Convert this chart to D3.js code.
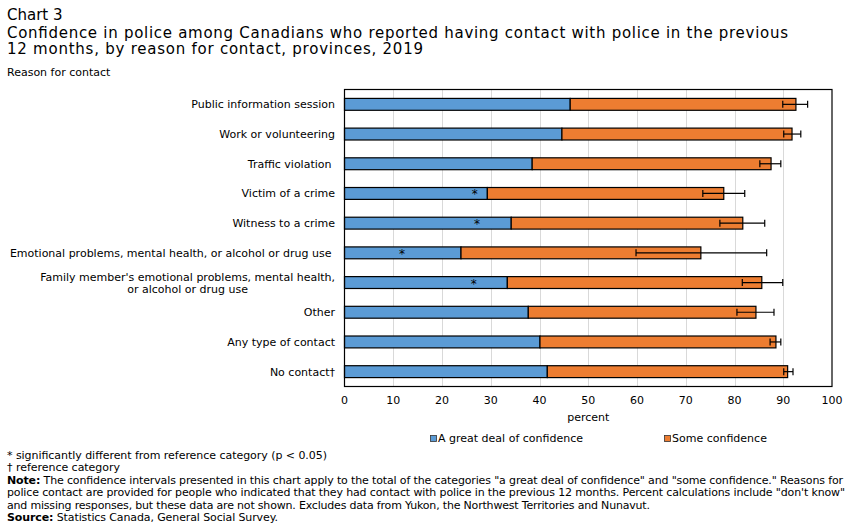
<!DOCTYPE html>
<html>
  <head>
    <meta http-equiv="Content-Type" content="text/html;charset=utf-8"/>
    <script type="text/javascript" src="https://cdn.jsdelivr.net/npm/d3@7"></script>
    <style type="text/css">
      body { margin: 0; background: #fff; }
      text { font-family: "DejaVu Sans", Verdana, sans-serif; fill: #000; }
      .note { font-size: 11px; }
      .grid line { stroke: #d9d9d9; }
    </style>
  </head>
  <body>
    <svg id="con" width="851" height="530"></svg>
    <script type="text/javascript">

    var categories = [
      "Public information session",
      "Work or volunteering",
      "Traffic violation ",
      "Victim of a crime",
      "Witness to a crime",
      "Emotional problems, mental health, or alcohol or drug use ",
      "Family member's emotional problems, mental health,|or alcohol or drug use",
      "Other",
      "Any type of contact",
      "No contact\u2020"
    ];
    var greatDeal = [46.3, 44.6, 38.5, 29.3, 34.2, 23.9, 33.4, 37.7, 40.1, 41.6];
    var someConf  = [46.3, 47.2, 49.0, 48.5, 47.5, 49.2, 52.2, 46.7, 48.4, 49.3];
    var ciLow     = [89.9, 90.1, 85.2, 73.5, 77.0, 59.8, 81.6, 80.5, 87.3, 90.1];
    var ciHigh    = [95.0, 93.6, 89.5, 82.1, 86.2, 86.6, 89.9, 88.1, 89.5, 92.0];
    // where the "*" sits (x value), null = not significant
    var starAt    = [null, null, null, 26.7, 27.2, 11.8, 26.5, null, null, null];
    var xTicks    = [0, 10, 20, 30, 40, 50, 60, 70, 80, 90, 100];
    var series    = ["A great deal of confidence", "Some confidence"];
    var colors    = ["#5b9bd5", "#ed7d31"];

    var svg = d3.select("#con");
    // note: "top" is reserved on window, so use pl/pr/pt/pb
    var pl = 344.5, pr = 832, pt = 89.5, pb = 386.5;

    var x = d3.scaleLinear().domain([0, 100]).range([pl, pr]);
    var y = d3.scaleBand().domain(categories).range([pt, pb]).paddingInner(0.6).paddingOuter(0.3);

    // titles
    svg.append("text").attr("x", 7).attr("y", 20).style("font-size", "15px").text("Chart 3");
    svg.append("text").attr("x", 7).attr("y", 38).style("font-size", "15px")
        .attr("textLength", 781).attr("lengthAdjust", "spacing")
        .text("Confidence in police among Canadians who reported having contact with police in the previous");
    svg.append("text").attr("x", 7).attr("y", 54).style("font-size", "15px")
        .attr("textLength", 416).attr("lengthAdjust", "spacing")
        .text("12 months, by reason for contact, provinces, 2019");
    svg.append("text").attr("x", 7).attr("y", 76).style("font-size", "11px").text("Reason for contact");

    // gridlines
    svg.append("g").attr("class", "grid").selectAll("line").data(xTicks.slice(1, -1)).enter()
      .append("line")
        .attr("x1", function(d) { return Math.round(x(d)) + 0.5; })
        .attr("x2", function(d) { return Math.round(x(d)) + 0.5; })
        .attr("y1", pt).attr("y2", pb);

    // stacked bars
    var stack = categories.map(function(c, i) {
      return [[0, greatDeal[i]], [greatDeal[i], greatDeal[i] + someConf[i]]];
    });
    var rows = svg.append("g").selectAll("g").data(categories).enter().append("g");
    [0, 1].forEach(function(s) {
      rows.append("rect")
          .attr("x", function(d, i) { return x(stack[i][s][0]); })
          .attr("y", function(d) { return y(d); })
          .attr("width", function(d, i) { return x(stack[i][s][1]) - x(stack[i][s][0]); })
          .attr("height", y.bandwidth())
          .style("fill", colors[s])
          .style("stroke", "#000")
          .style("stroke-width", 1.2);
    });

    // error bars
    var capH = 7;
    rows.append("line")
        .attr("x1", function(d, i) { return x(ciLow[i]); })
        .attr("x2", function(d, i) { return x(ciHigh[i]); })
        .attr("y1", function(d) { return y(d) + y.bandwidth() / 2; })
        .attr("y2", function(d) { return y(d) + y.bandwidth() / 2; })
        .style("stroke", "#000").style("stroke-width", 1.2);
    [ciLow, ciHigh].forEach(function(arr) {
      rows.append("line")
          .attr("x1", function(d, i) { return x(arr[i]); })
          .attr("x2", function(d, i) { return x(arr[i]); })
          .attr("y1", function(d) { return y(d) + y.bandwidth() / 2 - capH / 2; })
          .attr("y2", function(d) { return y(d) + y.bandwidth() / 2 + capH / 2; })
          .style("stroke", "#000").style("stroke-width", 1.2);
    });

    // asterisks
    rows.filter(function(d, i) { return starAt[i] !== null; })
      .append("text")
        .attr("x", function(d) { return x(starAt[categories.indexOf(d)]); })
        .attr("y", function(d) { return y(d) + y.bandwidth() / 2 + 5; })
        .attr("text-anchor", "middle")
        .style("font-size", "12px")
        .text("*");

    // frame
    svg.append("rect").attr("x", pl).attr("y", pt).attr("width", pr - pl).attr("height", pb - pt)
        .style("fill", "none").style("stroke", "#000").style("stroke-width", 1.2);

    // category labels
    var labelX = 335;
    categories.forEach(function(c) {
      var cy = y(c) + y.bandwidth() / 2;
      var parts = c.split("|");
      if (parts.length === 1) {
        svg.append("text").attr("x", labelX).attr("y", cy + 4).attr("text-anchor", "end")
            .style("font-size", "11px").style("white-space", "pre").text(c);
      } else {
        var t1 = svg.append("text").attr("x", labelX).attr("y", cy - 2).attr("text-anchor", "end")
            .style("font-size", "11px").text(parts[0]);
        var w1 = t1.node().getComputedTextLength();
        svg.append("text").attr("x", labelX - w1 / 2).attr("y", cy + 10).attr("text-anchor", "middle")
            .style("font-size", "11px").text(parts[1]);
      }
    });

    // x axis labels
    svg.append("g").selectAll("text").data(xTicks).enter().append("text")
        .attr("x", function(d) { return x(d); })
        .attr("y", 404)
        .attr("text-anchor", "middle")
        .style("font-size", "11px")
        .text(function(d) { return d; });
    svg.append("text").attr("x", (pl + pr) / 2).attr("y", 421).attr("text-anchor", "middle")
        .style("font-size", "11px").text("percent");

    // legend
    var legX = [430, 664];
    series.forEach(function(s, i) {
      svg.append("rect").attr("x", legX[i] + 0.5).attr("y", 435.5).attr("width", 6).attr("height", 6)
          .style("fill", colors[i]).style("stroke", "#333").style("stroke-width", 0.8);
      svg.append("text").attr("x", legX[i] + 8).attr("y", 442).style("font-size", "11px").text(s);
    });

    // notes (bold lead-in, rest, target width)
    var notes = [
      ["", "* significantly different from reference category (p < 0.05)", 320],
      ["", "\u2020 reference category", 113],
      ["Note:", " The confidence intervals presented in this chart apply to the total of the categories \"a great deal of confidence\" and \"some confidence.\" Reasons for", 836],
      ["", "police contact are provided for people who indicated that they had contact with police in the previous 12 months. Percent calculations include \"don't know\"", 838],
      ["", "and missing responses, but these data are not shown. Excludes data from Yukon, the Northwest Territories and Nunavut.", 643],
      ["Source:", " Statistics Canada, General Social Survey.", 271]
    ];
    notes.forEach(function(n, i) {
      var t = svg.append("text").attr("class", "note").attr("x", 7).attr("y", 459 + i * 12.4)
          .style("white-space", "pre")
          .attr("textLength", n[2]).attr("lengthAdjust", "spacing");
      if (n[0]) t.append("tspan").style("font-weight", "bold").text(n[0]);
      t.append("tspan").text(n[1]);
    });

    </script>
  </body>
</html>
